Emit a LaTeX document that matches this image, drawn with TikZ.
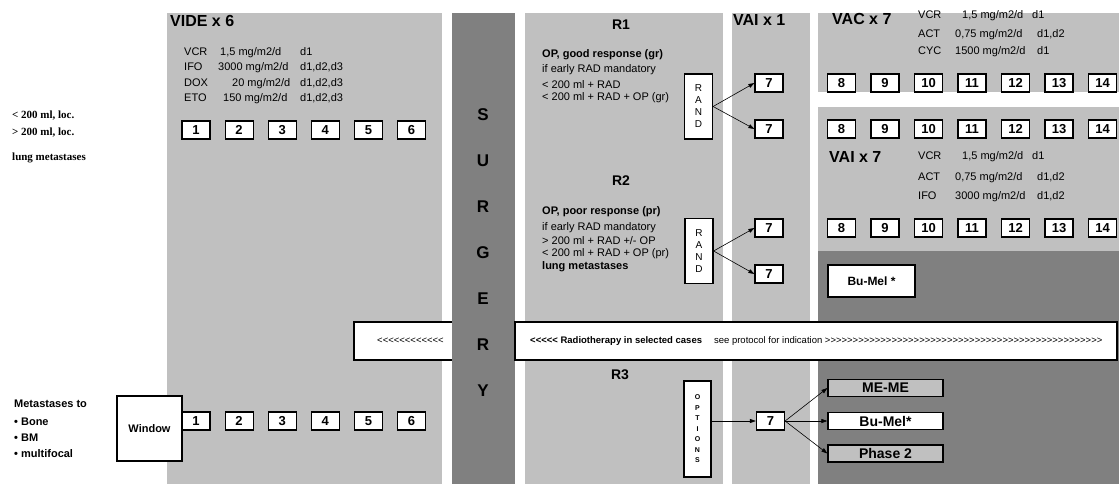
\documentclass[tikz,border=0pt]{standalone}
\usepackage{fontspec}
\setmainfont{Liberation Sans}[Ligatures=TeXOff]
\newfontfamily\timesbold{Liberation Serif}[Ligatures=TeXOff]
\usetikzlibrary{arrows.meta}
\definecolor{panel}{HTML}{C0C0C0}
\definecolor{darkpanel}{HTML}{808080}

\begin{document}
\begin{tikzpicture}[x=1pt, y=-1pt, >={Triangle[length=6pt,width=4pt]},
  every node/.style={inner sep=0pt},
  cyc/.style={draw, line width=1.2pt, fill=white, minimum width=28pt, minimum height=18pt, font=\bfseries\fontsize{13}{13}\selectfont},
  arm/.style={cyc, minimum width=115pt, minimum height=17pt, font=\bfseries\fontsize{14}{14}\selectfont},
  vbox/.style={draw, line width=1.2pt, fill=white, minimum width=28pt, align=center},
  head/.style={anchor=west, font=\bfseries\fontsize{16}{16}\selectfont},
  rhead/.style={font=\bfseries\fontsize{14}{14}\selectfont},
  txt/.style={anchor=west, font=\fontsize{11}{13}\selectfont},
  btxt/.style={anchor=west, font=\bfseries\fontsize{11}{13}\selectfont},
  ltxt/.style={anchor=west, font=\timesbold\bfseries\fontsize{11}{12}\selectfont},
  radtxt/.style={anchor=west, font=\fontsize{9.5}{11}\selectfont}]
  \useasboundingbox (0,0) rectangle (1119,485);
  % Panels
  \fill[panel] (167,13) rectangle (442,484);
  \fill[panel] (525,13) rectangle (723,484);
  \fill[panel] (732,13) rectangle (810,484);
  \fill[panel] (818,13) rectangle (1119,92);
  \fill[panel] (818,107) rectangle (1119,251);
  \fill[darkpanel] (818,251) rectangle (1119,484);
  % Radiotherapy, left part
  \draw[line width=1.2pt, fill=white] (354,322) rectangle (456,360);
  \node[radtxt] (radleft) at (377,341) {<<<<<<<<<<<<};
  % Surgery
  \fill[darkpanel] (452,13) rectangle (515,484);
  \foreach \l [count=\i] in {S,U,R,G,E,R,Y}
    \node[font=\bfseries\fontsize{17}{17}\selectfont] (surg\i) at (483,{69+46*\i}) {\l};
  % Radiotherapy, right part
  \draw[line width=1.2pt, fill=white] (515,322) rectangle (1117,360);
  \node[radtxt] (radright) at (530,341) {\textbf{<<<<< Radiotherapy in selected cases}\hspace{12pt}see protocol for indication >>>>>>>>>>>>>>>>>>>>>>>>>>>>>>>>>>>>>>>>>>>>>>>>>>};
  % Left labels
  \node[ltxt] (small) at (12,116) {< 200 ml, loc.};
  \node[ltxt] (large) at (12,133) {> 200 ml, loc.};
  \node[ltxt] (lung) at (12,158) {lung metastases};
  \node[btxt] (meta) at (14,404) {Metastases to};
  \node[btxt] (bone) at (14,422) {• Bone};
  \node[btxt] (bm) at (14,438) {• BM};
  \node[btxt] (multi) at (14,454) {• multifocal};
  % VIDE x 6
  \node[head] (vide) at (170,21) {VIDE x 6};
  \node[txt] (vcr) at (184,53) {\makebox[36pt][l]{VCR}\makebox[80pt][l]{1,5 mg/m2/d}d1};
  \node[txt] (ifo) at (184,68) {\makebox[34pt][l]{IFO}\makebox[82pt][l]{3000 mg/m2/d}d1,d2,d3};
  \node[txt] (dox) at (184,84) {\makebox[48pt][l]{DOX}\makebox[68pt][l]{20 mg/m2/d}d1,d2,d3};
  \node[txt] (eto) at (184,99) {\makebox[39pt][l]{ETO}\makebox[77pt][l]{150 mg/m2/d}d1,d2,d3};
  \foreach \i in {1,...,6} {
    \node[cyc] (top\i) at ({196+43.1*(\i-1)},130) {\i};
    \node[cyc] (bot\i) at ({196+43.1*(\i-1)},421) {\i};
  }
  \node[draw, line width=1.2pt, fill=white, minimum size=65pt, font=\bfseries\fontsize{11}{11}\selectfont] (window) at (149.5,428.5) {Window};
  % R1
  \node[rhead] (r1) at (621,25) {R1};
  \node[btxt] (gr) at (542,55) {OP, good response (gr)};
  \node[txt] (gr1) at (542,70) {if early RAD mandatory};
  \node[txt] (gr2) at (542,85) {< 200 ml + RAD};
  \node[txt] (gr3) at (542,98) {< 200 ml + RAD + OP (gr)};
  \node[vbox, minimum height=65pt, font=\fontsize{10}{12}\selectfont] (rand1) at (698.5,106.5) {R\\A\\N\\D};
  % R2
  \node[rhead] (r2) at (621,181) {R2};
  \node[btxt] (pr) at (542,212) {OP, poor response (pr)};
  \node[txt] (pr1) at (542,228) {if early RAD mandatory};
  \node[txt] (pr2) at (542,241) {> 200 ml + RAD +/- OP};
  \node[txt] (pr3) at (542,254) {< 200 ml + RAD + OP (pr)};
  \node[btxt] (pr4) at (542,267) {lung metastases};
  \node[vbox, minimum height=65pt, font=\fontsize{10}{12}\selectfont] (rand2) at (699,251) {R\\A\\N\\D};
  % R3
  \node[rhead] (r3) at (620,375) {R3};
  \node[vbox, minimum width=27pt, minimum height=96pt, font=\bfseries\fontsize{7}{10.5}\selectfont] (options) at (697.5,429) {O\\P\\T\\I\\O\\N\\S};
  % VAI x 1
  \node[head] (vaione) at (733,20) {VAI x 1};
  \node[cyc] (seven1) at (769,83) {7};
  \node[cyc] (seven2) at (769,129) {7};
  \node[cyc] (seven3) at (769,228) {7};
  \node[cyc] (seven4) at (769,274) {7};
  \node[cyc] (seven5) at (770.5,421) {7};
  % VAC x 7
  \node[head] (vac) at (832,19) {VAC x 7};
  \node[txt] (vacvcr) at (918,16) {\makebox[44pt][l]{VCR}\makebox[70pt][l]{1,5 mg/m2/d}d1};
  \node[txt] (vacact) at (918,35) {\makebox[37pt][l]{ACT}\makebox[82pt][l]{0,75 mg/m2/d}d1,d2};
  \node[txt] (vaccyc) at (918,52) {\makebox[37pt][l]{CYC}\makebox[82pt][l]{1500 mg/m2/d}d1};
  % VAI x 7
  \node[head] (vai) at (829,157) {VAI x 7};
  \node[txt] (vaivcr) at (918,157) {\makebox[44pt][l]{VCR}\makebox[70pt][l]{1,5 mg/m2/d}d1};
  \node[txt] (vaiact) at (918,178) {\makebox[37pt][l]{ACT}\makebox[82pt][l]{0,75 mg/m2/d}d1,d2};
  \node[txt] (vaiifo) at (918,197) {\makebox[37pt][l]{IFO}\makebox[82pt][l]{3000 mg/m2/d}d1,d2};
  \foreach \i in {8,...,14} {
    \node[cyc] (ra\i) at ({841.5+43.5*(\i-8)},83) {\i};
    \node[cyc] (rb\i) at ({841.5+43.5*(\i-8)},129) {\i};
    \node[cyc] (rc\i) at ({841.5+43.5*(\i-8)},228) {\i};
  }
  % High dose
  \node[cyc, minimum width=87pt, minimum height=32pt, font=\bfseries\fontsize{12}{12}\selectfont] (bumel) at (871.5,281) {Bu-Mel *};
  \node[arm, fill=panel] (meme) at (885.5,388) {ME-ME};
  \node[arm] (bumel2) at (885.5,421) {Bu-Mel*};
  \node[arm, fill=panel] (phase) at (885.5,453.5) {Phase 2};
  % Arrows
  \draw[->, line width=0.6pt] (rand1.east) -- (seven1.west);
  \draw[->, line width=0.6pt] (rand1.east) -- (seven2.west);
  \draw[->, line width=0.6pt] (rand2.east) -- (seven3.west);
  \draw[->, line width=0.6pt] (rand2.east) -- (seven4.west);
  \draw[->, line width=0.6pt] (options.east |- seven5) -- (seven5.west);
  \draw[->, line width=0.6pt] (seven5.east) -- (meme.west);
  \draw[->, line width=0.6pt] (seven5.east) -- (bumel2.west);
  \draw[->, line width=0.6pt] (seven5.east) -- (phase.west);
\end{tikzpicture}
\end{document}
